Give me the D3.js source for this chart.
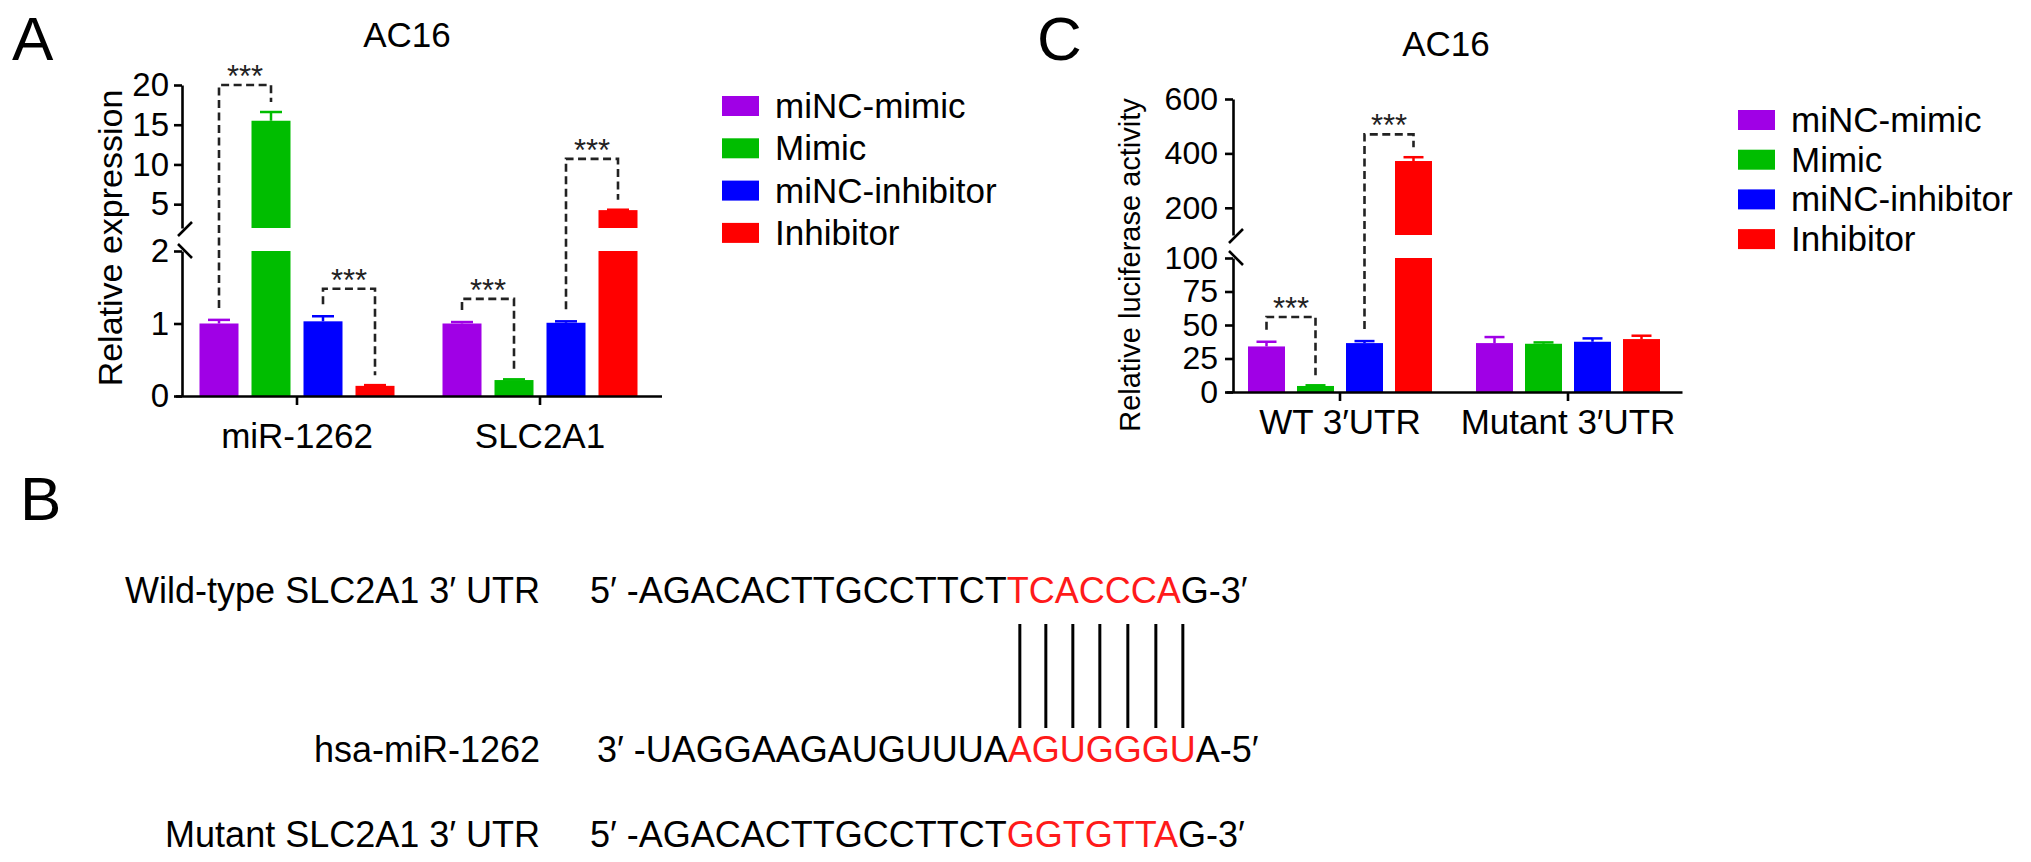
<!DOCTYPE html>
<html><head><meta charset="utf-8">
<script src="https://cdn.jsdelivr.net/npm/d3@7"></script>
<style>body{margin:0;background:#fff} svg{display:block}</style>
</head><body><svg id="c" width="2031" height="862"></svg>
<script>
// ---------- data ----------
const seriesNames = ["miNC-mimic", "Mimic", "miNC-inhibitor", "Inhibitor"];
const seriesColors = ["#a000e6", "#00bd00", "#0000ff", "#ff0000"];

const aCategories = ["miR-1262", "SLC2A1"];
const aValues = [[1.0, 15.5, 1.03, 0.14], [1.0, 0.22, 1.01, 4.25]];
const aErrors = [[0.05, 1.1, 0.07, 0.01], [0.02, 0.01, 0.02, 0.05]];
const aLowerTicks = [0, 1, 2];
const aUpperTicks = [5, 10, 15, 20];
// [category, seriesA, seriesB, bracket level in axis units]
const aBrackets = [[0, 0, 1, 20.0], [0, 2, 3, 1.48], [1, 0, 1, 1.34], [1, 2, 3, 10.7]];

const cCategories = ["WT 3′UTR", "Mutant 3′UTR"];
const cValues = [[34, 4.5, 36.5, 372], [36.5, 36, 37.5, 39.5]];
const cErrors = [[3.5, 0.5, 1.5, 14], [4.5, 1, 2.5, 2.5]];
const cLowerTicks = [0, 25, 50, 75, 100];
const cUpperTicks = [200, 400, 600];
const cBrackets = [[0, 0, 1, 56], [0, 2, 3, 470]];

const bLabels = ["Wild-type SLC2A1 3′ UTR", "hsa-miR-1262", "Mutant SLC2A1 3′ UTR"];
const bSeqHead = ["5′ -AGACACTTGCCTTCT", "3′ -UAGGAAGAUGUUUA", "5′ -AGACACTTGCCTTCT"];
const bSeqSite = ["TCACCCA", "AGUGGGU", "GGTGTTA"];
const bSeqTail = ["G-3′", "A-5′", "G-3′"];

// ---------- drawing ----------
const FONT = '"Liberation Sans", Arial, Helvetica, sans-serif';
const svg = d3.select("#c");

function txt(g, x, y, s, size, anchor) {
  return g.append("text").attr("x", x).attr("y", y).text(s)
    .attr("font-family", FONT).attr("font-size", size)
    .attr("text-anchor", anchor || "start").attr("fill", "#000");
}

function drawPanel(o) {
  const g = svg.append("g");
  const x0 = d3.scaleBand().domain(o.categories).range(o.xRange);
  const inner = o.barStep * o.values[0].length;
  const x1 = d3.scaleBand().domain(d3.range(o.values[0].length))
    .range([x0.bandwidth() / 2 - inner / 2, x0.bandwidth() / 2 + inner / 2])
    .paddingInner(o.barPad).paddingOuter(o.barPad / 2);
  const yLo = d3.scaleLinear().domain(o.loDomain).range(o.loRange);
  const yHi = d3.scaleLinear().domain(o.hiDomain).range(o.hiRange);
  const brk = o.loDomain[1];
  const yv = v => v <= brk ? yLo(v) : yHi(v);

  const bars = [];
  o.categories.forEach((cat, ci) => o.values[ci].forEach((v, si) => {
    bars.push({ cat, ci, si, v, e: o.errors[ci][si],
      x: x0(cat) + x1(si), w: x1.bandwidth(), color: seriesColors[si] });
  }));

  // lower parts
  g.selectAll("rect.lo").data(bars).join("rect").attr("class", "lo")
    .attr("x", d => d.x).attr("width", d => d.w)
    .attr("y", d => yLo(Math.min(d.v, brk)))
    .attr("height", d => yLo(0) - yLo(Math.min(d.v, brk)))
    .attr("fill", d => d.color);
  // upper parts
  g.selectAll("rect.hi").data(bars.filter(d => d.v > brk)).join("rect").attr("class", "hi")
    .attr("x", d => d.x).attr("width", d => d.w)
    .attr("y", d => yHi(d.v))
    .attr("height", d => yHi(o.hiDomain[0]) - yHi(d.v))
    .attr("fill", d => d.color);
  // error bars
  const eb = g.selectAll("g.err").data(bars).join("g").attr("class", "err")
    .attr("stroke", d => d.color).attr("stroke-width", 2.5);
  eb.append("line").attr("x1", d => d.x + d.w / 2).attr("x2", d => d.x + d.w / 2)
    .attr("y1", d => yv(d.v)).attr("y2", d => yv(d.v + d.e));
  eb.append("line").attr("x1", d => d.x + d.w / 2 - o.capW / 2).attr("x2", d => d.x + d.w / 2 + o.capW / 2)
    .attr("y1", d => yv(d.v + d.e)).attr("y2", d => yv(d.v + d.e));

  // axes
  function styleAxis(sel, size) {
    sel.selectAll("path,line").attr("stroke", "#000").attr("stroke-width", 2.6);
    sel.selectAll("text").attr("font-family", FONT).attr("font-size", size).attr("fill", "#000");
    sel.attr("font-family", null).attr("font-size", null);
  }
  const fmt = d3.format("d");
  const gLo = g.append("g").attr("transform", `translate(${o.axisX},0)`)
    .call(d3.axisLeft(yLo).tickValues(o.loTicks).tickFormat(fmt).tickSize(8).tickPadding(o.yPad).tickSizeOuter(0));
  styleAxis(gLo, o.tickFont);
  const gHi = g.append("g").attr("transform", `translate(${o.axisX},0)`)
    .call(d3.axisLeft(yHi).tickValues(o.hiTicks).tickFormat(fmt).tickSize(8).tickPadding(o.yPad).tickSizeOuter(0));
  styleAxis(gHi, o.tickFont);

  // break marks
  const yb1 = o.hiRange[0], yb2 = o.loRange[1], ax = o.axisX;
  g.append("path")
    .attr("d", `M${ax - 4},${yb1 + 8}L${ax + 10},${yb1 - 6}M${ax - 4},${yb2 - 7}L${ax + 10},${yb2 + 7}`)
    .attr("stroke", "#000").attr("stroke-width", 2.6).attr("fill", "none");

  // x axis
  const gx = g.append("g").attr("transform", `translate(0,${yLo(0)})`)
    .call(d3.axisBottom(x0).tickSize(9).tickPadding(o.xPad).tickSizeOuter(0));
  styleAxis(gx, o.catFont);

  // significance brackets
  o.brackets.forEach(([ci, sa, sb, lvl]) => {
    const cat = o.categories[ci];
    const xa = x0(cat) + x1(sa) + x1.bandwidth() / 2;
    const xb = x0(cat) + x1(sb) + x1.bandwidth() / 2;
    const ya = yv(o.values[ci][sa] + o.errors[ci][sa]) - 12;
    const yb = yv(o.values[ci][sb] + o.errors[ci][sb]) - 10;
    const yl = yv(lvl);
    g.append("path").attr("d", `M${xa},${ya}V${yl}H${xb}V${yb}`)
      .attr("fill", "none").attr("stroke", "#222").attr("stroke-width", 2.6)
      .attr("stroke-dasharray", "8,4.5");
    txt(g, (xa + xb) / 2, yl + 2, "***", 31, "middle").attr("fill", "#222");
  });

  // y label
  g.append("text").attr("transform", `translate(${o.yLabelX},${o.yLabelY}) rotate(-90)`)
    .attr("text-anchor", "middle").attr("dy", "0.35em")
    .attr("font-family", FONT).attr("font-size", o.yLabelFont).text(o.yLabel);
  // title
  txt(g, o.titleX, o.titleY, "AC16", 35, "middle");
  // legend
  const lg = g.append("g");
  seriesNames.forEach((s, i) => {
    const cy = o.legY + i * o.legStep;
    lg.append("rect").attr("x", o.legX).attr("y", cy - 10).attr("width", 37).attr("height", 20)
      .attr("fill", seriesColors[i]);
    txt(lg, o.legX + 53, cy + 12, s, 35);
  });
}

drawPanel({
  categories: aCategories, values: aValues, errors: aErrors, brackets: aBrackets,
  xRange: [175.5, 661.5], barStep: 52, barPad: 0.25, capW: 22,
  loDomain: [0, 2], loRange: [396, 251], hiDomain: [2, 20], hiRange: [228, 85],
  loTicks: aLowerTicks, hiTicks: aUpperTicks, axisX: 182, yPad: 5, xPad: 18,
  tickFont: 33, catFont: 35,
  yLabel: "Relative expression", yLabelX: 110, yLabelY: 238, yLabelFont: 34,
  titleX: 407, titleY: 47, legX: 722, legY: 106, legStep: 42.3
});

drawPanel({
  categories: cCategories, values: cValues, errors: cErrors, brackets: cBrackets,
  xRange: [1226, 1682], barStep: 49, barPad: 0.245, capW: 20,
  loDomain: [0, 100], loRange: [392, 258], hiDomain: [100, 600], hiRange: [235, 99],
  loTicks: cLowerTicks, hiTicks: cUpperTicks, axisX: 1233, yPad: 7, xPad: 8,
  tickFont: 32, catFont: 35,
  yLabel: "Relative luciferase activity", yLabelX: 1130, yLabelY: 265, yLabelFont: 29,
  titleX: 1446, titleY: 56, legX: 1738, legY: 120, legStep: 39.7
});

// panel letters
txt(svg, 12, 60, "A", 62);
txt(svg, 1037, 60, "C", 62);
txt(svg, 20, 520, "B", 62);

// panel B: sequences
const bg = svg.append("g");
const rowY = [603, 762, 847];
const seqX = [590, 597, 590];
const rows = bLabels.map((lab, i) => {
  txt(bg, 540, rowY[i], lab, 36, "end");
  const t = bg.append("text").attr("x", seqX[i]).attr("y", rowY[i])
    .attr("font-family", FONT).attr("font-size", 36).attr("fill", "#000");
  t.append("tspan").text(bSeqHead[i]);
  t.append("tspan").attr("fill", "#ff1a1a").text(bSeqSite[i]);
  t.append("tspan").text(bSeqTail[i]);
  return t;
});
// pairing lines at the centres of the miRNA seed characters
const tn = rows[1].node();
const start = bSeqHead[1].length;
const centres = d3.range(bSeqSite[1].length).map(k => {
  const e = tn.getExtentOfChar(start + k);
  return e.x + e.width / 2;
});
bg.selectAll("line.pair").data(centres).join("line").attr("class", "pair")
  .attr("x1", d => d).attr("x2", d => d).attr("y1", 624).attr("y2", 728)
  .attr("stroke", "#000").attr("stroke-width", 3);
</script></body></html>
